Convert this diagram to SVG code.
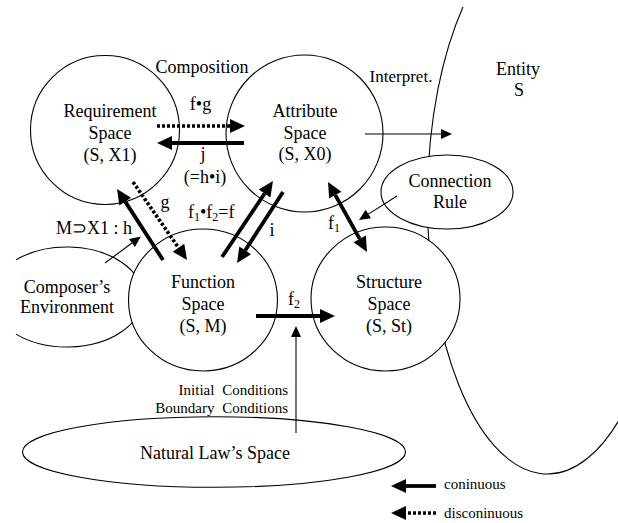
<svg xmlns="http://www.w3.org/2000/svg" width="618" height="523" viewBox="0 0 618 523">
<style>
text{font-family:"Liberation Serif","Times New Roman",serif;font-size:18px;fill:#000;text-anchor:middle}
.sm{font-size:15px}
.st{text-anchor:start}
.en{text-anchor:end}
.sub{font-size:12px}
.node{fill:#fff;stroke:#000;stroke-width:1.1}
.open{fill:none;stroke:#000;stroke-width:1.1}
.thick{stroke:#000;stroke-width:3.8;fill:none}
.dot{stroke:#000;stroke-width:3.6;fill:none;stroke-dasharray:3 2}
.thin{stroke:#000;stroke-width:1.1;fill:none}
</style>
<defs>
<marker id="big" markerUnits="userSpaceOnUse" markerWidth="16" markerHeight="14" refX="0" refY="7" orient="auto-start-reverse" overflow="visible">
<path d="M0,0 L15,7 L0,14 z" fill="#000"/>
</marker>
<marker id="small" markerUnits="userSpaceOnUse" markerWidth="12" markerHeight="10" refX="0" refY="5" orient="auto" overflow="visible">
<path d="M0,0 L11,5 L0,10 z" fill="#000"/>
</marker>
</defs>

<g id="entity">
<path class="open" d="M463,7 A120,273 0 0 0 625.1,409.1"/>
<text x="518" y="75">Entity</text>
<text x="519" y="96">S</text>
</g>

<g id="composer">
<path class="open" d="M16,259.9 A76,50 0 1 1 16,334.1"/>
</g>

<g id="requirement">
<circle class="node" cx="105" cy="130" r="74.5"/>
<text x="110" y="117">Requirement</text>
<text x="110" y="139">Space</text>
<text x="110" y="161">(S, X1)</text>
</g>

<g id="attribute">
<circle class="node" cx="304.5" cy="133.5" r="78.5"/>
<text x="305" y="117">Attribute</text>
<text x="305" y="139">Space</text>
<text x="305" y="160">(S, X0)</text>
</g>

<g id="function">
<ellipse class="node" cx="203" cy="300" rx="74.5" ry="71"/>
<text x="203" y="288">Function</text>
<text x="203" y="310">Space</text>
<text x="203" y="332">(S, M)</text>
</g>

<g id="structure">
<ellipse class="node" cx="385.5" cy="299" rx="74.5" ry="72"/>
<text x="389" y="288">Structure</text>
<text x="389" y="310">Space</text>
<text x="389" y="332">(S, St)</text>
</g>

<g id="connection-rule">
<ellipse class="node" cx="447" cy="192" rx="66" ry="37"/>
<text x="450" y="187">Connection</text>
<text x="450" y="208">Rule</text>
</g>

<g id="natural-law">
<ellipse class="node" cx="214" cy="452" rx="191.5" ry="35.3"/>
<text x="215" y="459">Natural Law’s Space</text>
</g>

<g id="composer-label">
<text x="67" y="293">Composer’s</text>
<text x="67" y="313">Environment</text>
</g>

<g id="connectors">
<line class="dot" x1="157" y1="126" x2="230" y2="126" marker-end="url(#big)"/>
<line class="thick" x1="244" y1="143" x2="172" y2="143" marker-end="url(#big)"/>
<line class="thick" x1="163" y1="260" x2="125.2" y2="201.6" marker-end="url(#big)"/>
<line class="dot" x1="133" y1="182" x2="178.5" y2="247.7" marker-end="url(#big)"/>
<line class="thick" x1="222" y1="257" x2="264.6" y2="193.5" marker-end="url(#big)"/>
<line class="thick" x1="283" y1="192" x2="245.2" y2="250.4" marker-end="url(#big)"/>
<line class="thick" x1="335.3" y1="195.1" x2="359.7" y2="238.9" marker-start="url(#big)" marker-end="url(#big)"/>
<line class="thick" x1="256" y1="316" x2="320" y2="316" marker-end="url(#big)"/>
<line class="thin" x1="365" y1="134" x2="441" y2="134" marker-end="url(#small)"/>
<line class="thin" x1="397" y1="196" x2="368.3" y2="214.1" marker-end="url(#small)"/>
<line class="thin" x1="105" y1="263" x2="132" y2="243" marker-end="url(#small)"/>
<line class="thin" x1="296" y1="433" x2="296" y2="337" marker-end="url(#small)"/>
<line class="thick" x1="436" y1="486" x2="406" y2="486" marker-end="url(#big)"/>
<line class="dot" x1="436" y1="513" x2="406" y2="513" marker-end="url(#big)"/>
</g>

<g id="labels">
<text x="202" y="73">Composition</text>
<text x="401" y="82" style="font-size:17px">Interpret.</text>
<text x="200.5" y="110">f•g</text>
<text x="203" y="160">j</text>
<text x="205" y="183">(=h•i)</text>
<text class="st" x="328" y="229">f<tspan class="sub" dy="3">1</tspan></text>
<text x="165" y="208">g</text>
<text class="st" x="188" y="218">f<tspan class="sub" dy="3">1</tspan><tspan dy="-3">•f</tspan><tspan class="sub" dy="3">2</tspan><tspan dy="-3">=f</tspan></text>
<text x="272" y="236">i</text>
<text class="st" x="56" y="234">M⊃X1 : h</text>
<text class="st" x="288" y="305">f<tspan class="sub" dy="3">2</tspan></text>
<text class="sm en" x="288" y="395" word-spacing="4">Initial Conditions</text>
<text class="sm en" x="288" y="413" word-spacing="4">Boundary Conditions</text>
<text class="sm st" x="444" y="489">coninuous</text>
<text class="sm st" x="444" y="518">disconinuous</text>
</g>
</svg>
